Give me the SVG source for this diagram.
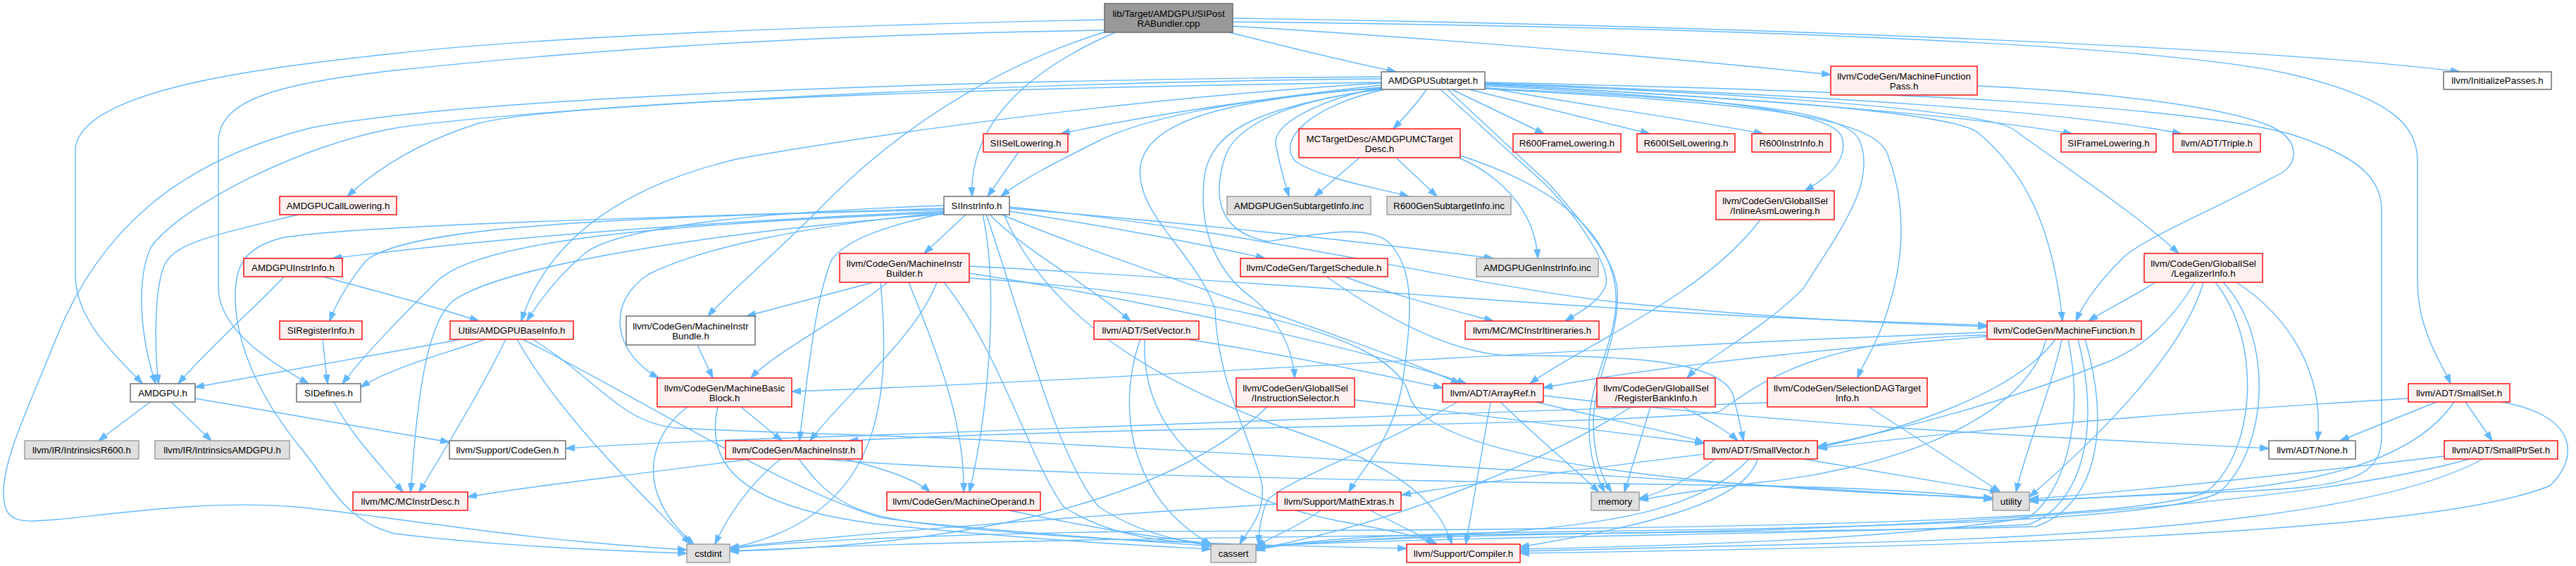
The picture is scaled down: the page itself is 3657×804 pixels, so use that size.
<svg xmlns="http://www.w3.org/2000/svg" width="3657" height="804" viewBox="0 0 3657 804">
<style>
.e{fill:none;stroke:#63b8ff;stroke-width:1.4;marker-end:url(#arr)}
.r{fill:#fff0f0;stroke:#ff0000;stroke-width:1.4}
.w{fill:#ffffff;stroke:#666666;stroke-width:1.4}
.g{fill:#e0e0e0;stroke:#999999;stroke-width:1.4}
.rt{fill:#999999;stroke:#666666;stroke-width:1.4}
text{font-family:"Liberation Sans",Arial,Helvetica,sans-serif;font-size:13.33px;text-anchor:middle;fill:#000000}
</style>
<defs>
<marker id="arr" markerUnits="userSpaceOnUse" markerWidth="14" markerHeight="10" refX="13" refY="5" orient="auto" viewBox="0 0 14 10"><path d="M0,0.5 L13.5,5 L0,9.5 z" fill="#63b8ff" stroke="#63b8ff" stroke-width="1"/></marker>
</defs>
<rect x="0" y="0" width="3657" height="804" fill="#ffffff"/>
<g id="edges">
<path class="e" d="M1568,28 C1000,40 700,60 560,76 C350,98 118,130 107,210 L107,395 C110,460 170,510 202,545"/>
<path class="e" d="M1568,43 C1100,50 800,75 560,100 C400,118 312,140 310,200 L310,410 C312,470 385,515 438,545"/>
<path class="e" d="M1583,46 C1470,95 1375,170 1380,279"/>
<path class="e" d="M1570,45 C1440,85 1290,165 1160,300 C1080,380 1030,420 1005,449"/>
<path class="e" d="M1745,46 C1820,65 1900,85 1982,102"/>
<path class="e" d="M1750,37 C2050,55 2400,85 2599,106"/>
<path class="e" d="M1750,26 C2400,35 3200,65 3492,102"/>
<path class="e" d="M1750,31 C2400,38 3050,60 3250,105 C3400,140 3432,180 3432,230 L3432,400 C3432,470 3466,515 3479,545"/>
<path class="e" d="M1961,121 C1790,140 1620,165 1506,190"/>
<path class="e" d="M1962,125 C1750,140 1620,170 1560,200 C1500,230 1450,255 1421,279"/>
<path class="e" d="M1961,117 C1400,125 800,145 680,175 C600,200 540,235 493,279"/>
<path class="e" d="M1961,112 C1300,118 700,160 561,182 C430,205 260,290 215,350 C195,390 196,470 221,545"/>
<path class="e" d="M1961,109 C1300,114 650,140 440,182 C250,230 140,330 80,480 C40,580 5,650 5,700 C5,745 30,742 80,738 C180,728 300,710 420,720 C500,728 560,738 620,745 C800,770 900,776 975,781"/>
<path class="e" d="M1961,118 C1600,140 1250,190 1050,225 C900,260 780,330 740,456"/>
<path class="e" d="M2025,127 C2010,150 1990,170 1978,183"/>
<path class="e" d="M1962,124 C1880,140 1800,175 1812,210 C1818,240 1824,260 1830,279"/>
<path class="e" d="M1966,127 C1860,150 1810,200 1840,230 C1880,255 1960,268 2000,279"/>
<path class="e" d="M2061,127 L2192,190"/>
<path class="e" d="M2085,127 L2342,190"/>
<path class="e" d="M2108,124 C2250,150 2400,170 2503,190"/>
<path class="e" d="M2108,120 C2500,140 2800,165 2942,190"/>
<path class="e" d="M2108,118 C2600,135 2950,160 3097,190"/>
<path class="e" d="M2108,122 C2350,135 2600,150 2615,195 C2625,230 2590,255 2562,271"/>
<path class="e" d="M2108,125 C2400,140 2620,150 2640,200 C2665,260 2610,330 2560,410 C2500,470 2420,510 2395,537"/>
<path class="e" d="M2108,126 C2450,145 2660,160 2680,220 C2710,300 2700,380 2680,440 C2665,490 2645,515 2637,537"/>
<path class="e" d="M2108,120 C2500,140 2780,160 2810,190 C2880,250 2915,330 2928,456"/>
<path class="e" d="M2108,119 C2550,135 2830,160 2860,185 C2950,250 3040,310 3093,360"/>
<path class="e" d="M2108,117 C2700,130 3100,150 3250,190 C3360,225 3381,260 3381,300 L3381,620 C3381,680 3330,690 3200,697 C3050,703 2950,708 2881,711"/>
<path class="e" d="M2045,127 L2195,263 C2250,320 2285,380 2280,405 C2270,430 2240,445 2222,456"/>
<path class="e" d="M2055,127 L2200,262 C2240,310 2290,360 2296,410 C2300,480 2262,540 2262,600 C2262,650 2275,680 2288,699"/>
<path class="e" d="M1962,124 C1780,140 1640,160 1620,230 C1605,300 1700,360 1725,440 C1728,545 1778,625 1792,690 C1795,735 1770,755 1760,773"/>
<path class="e" d="M1962,127 C1850,140 1760,170 1740,220 C1720,280 1730,330 1800,343 C1880,330 1940,320 1970,343 C2010,380 2005,450 1990,550 C1975,630 1930,670 1915,699"/>
<path class="e" d="M1962,126 C1800,150 1720,180 1710,250 C1700,330 1730,390 1780,425 C1810,450 1835,490 1838,537"/>
<path class="e" d="M1930,224 L1866,279"/>
<path class="e" d="M1982,224 L2040,279"/>
<path class="e" d="M2073,225 C2130,250 2180,300 2183,367"/>
<path class="e" d="M2073,221 C2200,262 2275,320 2292,400 C2305,470 2258,530 2256,600 C2255,650 2268,680 2278,699"/>
<path class="e" d="M1446,216 L1402,279"/>
<path class="e" d="M1340,300 C900,320 650,345 472,367"/>
<path class="e" d="M1341,302 C950,318 680,340 620,400 C580,440 520,500 486,545"/>
<path class="e" d="M1340,298 C900,308 580,320 520,370 C497,398 478,428 468,456"/>
<path class="e" d="M1340,292 C1100,300 880,320 830,360 C795,390 770,420 748,456"/>
<path class="e" d="M1372,304 L1312,360"/>
<path class="e" d="M1433,300 C1560,320 1700,345 1796,367"/>
<path class="e" d="M1433,296 C1700,318 1950,345 2120,367"/>
<path class="e" d="M1433,294 C1800,330 2050,400 2300,430 C2550,455 2700,460 2821,464"/>
<path class="e" d="M1404,304 C1460,360 1540,400 1605,456"/>
<path class="e" d="M1420,304 C1600,380 1900,470 2073,545"/>
<path class="e" d="M1340,302 C1150,320 1000,350 920,390 C860,430 870,500 935,537"/>
<path class="e" d="M1340,303 C1260,320 1200,340 1180,370 C1160,420 1150,500 1135,626"/>
<path class="e" d="M1395,304 C1420,420 1400,600 1376,699"/>
<path class="e" d="M1342,304 C1000,330 700,380 640,430 C600,470 590,600 583,699"/>
<path class="e" d="M1425,304 C1500,480 1700,560 1800,600 C1960,650 2040,700 2061,773"/>
<path class="e" d="M1340,296 C900,310 500,320 400,338 C345,352 334,380 334,420 C334,500 380,580 430,640 C470,690 490,740 560,758 C700,775 850,782 975,786"/>
<path class="e" d="M1400,304 C1450,450 1500,650 1560,720 C1620,760 1680,768 1719,776"/>
<path class="e" d="M2807,122 C2950,128 3150,148 3225,180 C3262,198 3265,228 3240,245 C3140,300 3050,335 3015,365 C2985,395 2960,425 2947,456"/>
<path class="e" d="M423,305 C300,335 245,345 232,380 C218,420 220,500 225,545"/>
<path class="e" d="M403,393 C380,420 300,490 253,545"/>
<path class="e" d="M459,393 C520,410 600,430 680,456"/>
<path class="e" d="M458,482 L465,545"/>
<path class="e" d="M474,571 C500,620 540,660 572,699"/>
<path class="e" d="M655,482 L277,550"/>
<path class="e" d="M689,482 C640,500 560,520 512,550"/>
<path class="e" d="M718,482 C680,560 630,640 595,699"/>
<path class="e" d="M734,482 C800,600 930,720 980,773"/>
<path class="e" d="M742,482 C900,560 1100,690 1250,735 C1450,768 1800,775 1997,779"/>
<path class="e" d="M756,482 C850,540 880,600 960,608 C1100,615 1250,618 1400,625 C1900,650 2500,690 2829,709"/>
<path class="e" d="M213,571 L140,626"/>
<path class="e" d="M243,571 L300,626"/>
<path class="e" d="M277,566 L638,628"/>
<path class="e" d="M990,490 L1012,537"/>
<path class="e" d="M1052,578 L1110,626"/>
<path class="e" d="M976,578 C920,620 900,700 985,773"/>
<path class="e" d="M1019,578 C1000,660 1050,720 1250,745 C1500,770 1650,776 1719,780"/>
<path class="e" d="M1065,652 C900,675 750,690 664,706"/>
<path class="e" d="M1108,652 C1060,690 1030,740 1015,773"/>
<path class="e" d="M1200,652 C1250,665 1300,680 1320,699"/>
<path class="e" d="M1134,652 C1170,700 1200,730 1300,742 C1500,762 1650,770 1719,776"/>
<path class="e" d="M1167,652 C1500,680 2200,685 2500,690 C2700,695 2790,702 2829,710"/>
<path class="e" d="M1433,725 C1550,750 1650,765 1719,772"/>
<path class="e" d="M1376,388 C1650,430 1950,500 2082,545"/>
<path class="e" d="M1260,401 C1200,450 1100,500 1066,537"/>
<path class="e" d="M1376,378 C1800,400 2200,435 2500,450 C2650,457 2750,460 2821,462"/>
<path class="e" d="M1330,401 C1300,480 1200,560 1150,626"/>
<path class="e" d="M1240,401 L1060,449"/>
<path class="e" d="M1290,401 C1330,500 1370,600 1368,699"/>
<path class="e" d="M1340,401 C1420,500 1460,650 1510,720 C1580,765 1660,770 1719,772"/>
<path class="e" d="M1250,401 C1265,560 1250,700 1100,760 C1070,772 1050,776 1036,779"/>
<path class="e" d="M1376,395 C1750,420 1980,480 2000,560 C2020,640 2300,690 2829,707"/>
<path class="e" d="M1883,393 C1950,440 2050,500 2140,505 C2300,505 2440,510 2460,560 C2468,590 2472,610 2475,626"/>
<path class="e" d="M1909,393 C1980,420 2060,440 2120,456"/>
<path class="e" d="M1923,568 C2100,590 2300,615 2419,630"/>
<path class="e" d="M1799,578 C1650,720 1350,775 1036,783"/>
<path class="e" d="M2389,578 C2420,595 2450,610 2467,626"/>
<path class="e" d="M2343,578 L2306,699"/>
<path class="e" d="M2316,578 C2200,650 2000,740 1783,780"/>
<path class="e" d="M2499,312 C2420,420 2230,500 2172,545"/>
<path class="e" d="M3060,401 C3030,420 2990,440 2965,456"/>
<path class="e" d="M3175,401 C3250,450 3300,530 3290,626"/>
<path class="e" d="M3116,401 C3080,460 3040,495 2990,515 C2850,570 2700,610 2581,634"/>
<path class="e" d="M3128,401 C3100,500 2980,620 2881,706"/>
<path class="e" d="M3156,401 C3230,480 3220,640 3150,700 C3050,750 2400,752 2100,757 C1900,762 1820,772 1783,782"/>
<path class="e" d="M3145,401 C3215,490 3200,650 3130,700 C3000,750 2200,752 1600,755 C1300,760 1100,770 1036,780"/>
<path class="e" d="M2509,572 C2100,585 1500,610 1220,619 C1050,624 900,630 803,637"/>
<path class="e" d="M2653,578 L2840,699"/>
<path class="e" d="M2821,478 C2600,495 2350,520 2191,551"/>
<path class="e" d="M2918,482 C2860,560 2700,610 2581,636"/>
<path class="e" d="M2821,472 C2200,495 1600,540 1124,556"/>
<path class="e" d="M2821,476 C2560,480 2480,560 2440,585 C2300,605 1600,605 1205,626"/>
<path class="e" d="M2936,482 C2960,600 2930,700 2880,735 C2700,765 2400,775 2158,780"/>
<path class="e" d="M2950,482 C2985,620 2950,720 2880,745 C2600,760 2100,760 1783,776"/>
<path class="e" d="M2960,482 C3000,620 2970,720 2890,748 C2500,760 1500,758 1036,783"/>
<path class="e" d="M2905,482 C2870,610 2650,670 2500,685 C2420,695 2370,703 2327,710"/>
<path class="e" d="M2927,482 C2910,560 2875,640 2862,699"/>
<path class="e" d="M1686,482 C1800,500 1950,530 2048,551"/>
<path class="e" d="M1625,482 C1620,600 1700,700 1900,740 C1980,755 2020,762 2037,773"/>
<path class="e" d="M1619,482 C1590,560 1590,700 1720,774"/>
<path class="e" d="M2191,562 C2600,610 3000,625 3221,637"/>
<path class="e" d="M2180,571 C2300,600 2380,615 2419,629"/>
<path class="e" d="M2116,571 L2081,773"/>
<path class="e" d="M2069,571 C1950,640 1830,680 1800,710 C1790,730 1788,750 1786,773"/>
<path class="e" d="M2130,571 C2180,620 2240,670 2270,699"/>
<path class="e" d="M3459,571 L3322,626"/>
<path class="e" d="M3500,571 L3538,626"/>
<path class="e" d="M3419,566 C3100,585 2800,610 2581,637"/>
<path class="e" d="M3484,571 C3430,650 3300,690 3100,700 C3000,706 2930,710 2881,712"/>
<path class="e" d="M3551,571 C3660,590 3662,650 3620,690 C3450,760 2800,776 2158,786"/>
<path class="e" d="M3525,652 C3400,720 3100,760 2600,772 C2400,778 2250,781 2158,783"/>
<path class="e" d="M3506,652 C3300,710 2800,750 2300,757 C2000,762 1850,770 1783,779"/>
<path class="e" d="M3470,648 C3200,680 3000,700 2881,709"/>
<path class="e" d="M2560,652 L2838,699"/>
<path class="e" d="M2495,652 C2480,710 2350,745 2158,777"/>
<path class="e" d="M2483,652 C2420,720 2300,745 2100,758 C1950,766 1850,770 1783,777"/>
<path class="e" d="M2419,645 C2300,660 2100,685 1990,703"/>
<path class="e" d="M2435,652 C2400,680 2360,700 2327,708"/>
<path class="e" d="M1945,725 L2040,773"/>
<path class="e" d="M1875,725 C1840,750 1810,760 1783,776"/>
<path class="e" d="M1813,716 C1500,735 1200,760 1036,778"/>
</g>
<g id="n_root"><rect class="rt" x="1568" y="5" width="182" height="41"/><text x="1659" y="23.5">lib/Target/AMDGPU/SIPost</text><text x="1659" y="38">RABundler.cpp</text></g>
<g id="n_subtarget"><rect class="w" x="1961" y="102" width="147" height="25"/><text x="2034.5" y="119">AMDGPUSubtarget.h</text></g>
<g id="n_siisel"><rect class="r" x="1396" y="190" width="120" height="26"/><text x="1456" y="207.5">SIISelLowering.h</text></g>
<g id="n_mctd"><rect class="r" x="1844" y="183" width="229" height="41"/><text x="1958.5" y="201.5">MCTargetDesc/AMDGPUMCTarget</text><text x="1958.5" y="216">Desc.h</text></g>
<g id="n_r600fl"><rect class="r" x="2148" y="190" width="153" height="26"/><text x="2224.5" y="207.5">R600FrameLowering.h</text></g>
<g id="n_r600isel"><rect class="r" x="2324" y="190" width="139" height="26"/><text x="2393.5" y="207.5">R600ISelLowering.h</text></g>
<g id="n_r600ii"><rect class="r" x="2487" y="190" width="112" height="26"/><text x="2543" y="207.5">R600InstrInfo.h</text></g>
<g id="n_sifl"><rect class="r" x="2926" y="190" width="135" height="26"/><text x="2993.5" y="207.5">SIFrameLowering.h</text></g>
<g id="n_triple"><rect class="r" x="3085" y="190" width="124" height="26"/><text x="3147" y="207.5">llvm/ADT/Triple.h</text></g>
<g id="n_mfp"><rect class="r" x="2599" y="94" width="208" height="41"/><text x="2703" y="112.5">llvm/CodeGen/MachineFunction</text><text x="2703" y="127">Pass.h</text></g>
<g id="n_initpasses"><rect class="w" x="3469" y="102" width="153" height="25"/><text x="3545.5" y="119">llvm/InitializePasses.h</text></g>
<g id="n_sii"><rect class="w" x="1340" y="279" width="93" height="26"/><text x="1386.5" y="296.5">SIInstrInfo.h</text></g>
<g id="n_calllow"><rect class="r" x="397" y="279" width="166" height="26"/><text x="480" y="296.5">AMDGPUCallLowering.h</text></g>
<g id="n_gensub"><rect class="g" x="1742" y="279" width="204" height="26"/><text x="1844" y="296.5">AMDGPUGenSubtargetInfo.inc</text></g>
<g id="n_r600gen"><rect class="g" x="1969" y="279" width="176" height="26"/><text x="2057" y="296.5">R600GenSubtargetInfo.inc</text></g>
<g id="n_inlineasm"><rect class="r" x="2436" y="271" width="168" height="41"/><text x="2520" y="289.5">llvm/CodeGen/GlobalISel</text><text x="2520" y="304">/InlineAsmLowering.h</text></g>
<g id="n_amdgpuii"><rect class="r" x="346" y="367" width="140" height="26"/><text x="416" y="384.5">AMDGPUInstrInfo.h</text></g>
<g id="n_mib"><rect class="r" x="1192" y="360" width="184" height="41"/><text x="1284" y="378.5">llvm/CodeGen/MachineInstr</text><text x="1284" y="393">Builder.h</text></g>
<g id="n_tsched"><rect class="r" x="1761" y="367" width="209" height="26"/><text x="1865.5" y="384.5">llvm/CodeGen/TargetSchedule.h</text></g>
<g id="n_genii"><rect class="g" x="2096" y="367" width="173" height="26"/><text x="2182.5" y="384.5">AMDGPUGenInstrInfo.inc</text></g>
<g id="n_legal"><rect class="r" x="3044" y="360" width="168" height="41"/><text x="3128" y="378.5">llvm/CodeGen/GlobalISel</text><text x="3128" y="393">/LegalizerInfo.h</text></g>
<g id="n_sireg"><rect class="r" x="397" y="456" width="117" height="26"/><text x="455.5" y="473.5">SIRegisterInfo.h</text></g>
<g id="n_baseinfo"><rect class="r" x="639" y="456" width="175" height="26"/><text x="726.5" y="473.5">Utils/AMDGPUBaseInfo.h</text></g>
<g id="n_mibundle"><rect class="w" x="889" y="449" width="183" height="41"/><text x="980.5" y="467.5">llvm/CodeGen/MachineInstr</text><text x="980.5" y="482">Bundle.h</text></g>
<g id="n_setvec"><rect class="r" x="1553" y="456" width="149" height="26"/><text x="1627.5" y="473.5">llvm/ADT/SetVector.h</text></g>
<g id="n_itin"><rect class="r" x="2080" y="456" width="190" height="26"/><text x="2175" y="473.5">llvm/MC/MCInstrItineraries.h</text></g>
<g id="n_mf"><rect class="r" x="2821" y="456" width="219" height="26"/><text x="2930.5" y="473.5">llvm/CodeGen/MachineFunction.h</text></g>
<g id="n_amdgpu"><rect class="w" x="185" y="545" width="92" height="26"/><text x="231" y="562.5">AMDGPU.h</text></g>
<g id="n_sidefines"><rect class="w" x="421" y="545" width="91" height="26"/><text x="466.5" y="562.5">SIDefines.h</text></g>
<g id="n_mbb"><rect class="r" x="933" y="537" width="191" height="41"/><text x="1028.5" y="555.5">llvm/CodeGen/MachineBasic</text><text x="1028.5" y="570">Block.h</text></g>
<g id="n_instsel"><rect class="r" x="1755" y="537" width="168" height="41"/><text x="1839" y="555.5">llvm/CodeGen/GlobalISel</text><text x="1839" y="570">/InstructionSelector.h</text></g>
<g id="n_arrayref"><rect class="r" x="2048" y="545" width="143" height="26"/><text x="2119.5" y="562.5">llvm/ADT/ArrayRef.h</text></g>
<g id="n_regbank"><rect class="r" x="2267" y="537" width="168" height="41"/><text x="2351" y="555.5">llvm/CodeGen/GlobalISel</text><text x="2351" y="570">/RegisterBankInfo.h</text></g>
<g id="n_seldag"><rect class="r" x="2509" y="537" width="227" height="41"/><text x="2622.5" y="555.5">llvm/CodeGen/SelectionDAGTarget</text><text x="2622.5" y="570">Info.h</text></g>
<g id="n_smallset"><rect class="r" x="3419" y="545" width="144" height="26"/><text x="3491" y="562.5">llvm/ADT/SmallSet.h</text></g>
<g id="n_intr600"><rect class="g" x="35" y="626" width="162" height="26"/><text x="116" y="643.5">llvm/IR/IntrinsicsR600.h</text></g>
<g id="n_intamdgpu"><rect class="g" x="220" y="626" width="191" height="26"/><text x="315.5" y="643.5">llvm/IR/IntrinsicsAMDGPU.h</text></g>
<g id="n_cgen"><rect class="w" x="638" y="626" width="165" height="26"/><text x="720.5" y="643.5">llvm/Support/CodeGen.h</text></g>
<g id="n_mi"><rect class="r" x="1030" y="626" width="194" height="26"/><text x="1127" y="643.5">llvm/CodeGen/MachineInstr.h</text></g>
<g id="n_smallvec"><rect class="r" x="2419" y="626" width="161" height="26"/><text x="2499.5" y="643.5">llvm/ADT/SmallVector.h</text></g>
<g id="n_none"><rect class="w" x="3221" y="626" width="123" height="26"/><text x="3282.5" y="643.5">llvm/ADT/None.h</text></g>
<g id="n_smallptr"><rect class="r" x="3470" y="626" width="161" height="26"/><text x="3550.5" y="643.5">llvm/ADT/SmallPtrSet.h</text></g>
<g id="n_mcdesc"><rect class="r" x="501" y="699" width="163" height="26"/><text x="582.5" y="716.5">llvm/MC/MCInstrDesc.h</text></g>
<g id="n_mop"><rect class="r" x="1259" y="699" width="218" height="26"/><text x="1368" y="716.5">llvm/CodeGen/MachineOperand.h</text></g>
<g id="n_mathext"><rect class="r" x="1813" y="699" width="176" height="26"/><text x="1901" y="716.5">llvm/Support/MathExtras.h</text></g>
<g id="n_memory"><rect class="g" x="2259" y="699" width="68" height="26"/><text x="2293" y="716.5">memory</text></g>
<g id="n_utility"><rect class="g" x="2829" y="699" width="52" height="26"/><text x="2855" y="716.5">utility</text></g>
<g id="n_cstdint"><rect class="g" x="975" y="773" width="61" height="26"/><text x="1005.5" y="790.5">cstdint</text></g>
<g id="n_cassert"><rect class="g" x="1719" y="773" width="64" height="26"/><text x="1751" y="790.5">cassert</text></g>
<g id="n_compiler"><rect class="r" x="1997" y="773" width="161" height="26"/><text x="2077.5" y="790.5">llvm/Support/Compiler.h</text></g>
</svg>
